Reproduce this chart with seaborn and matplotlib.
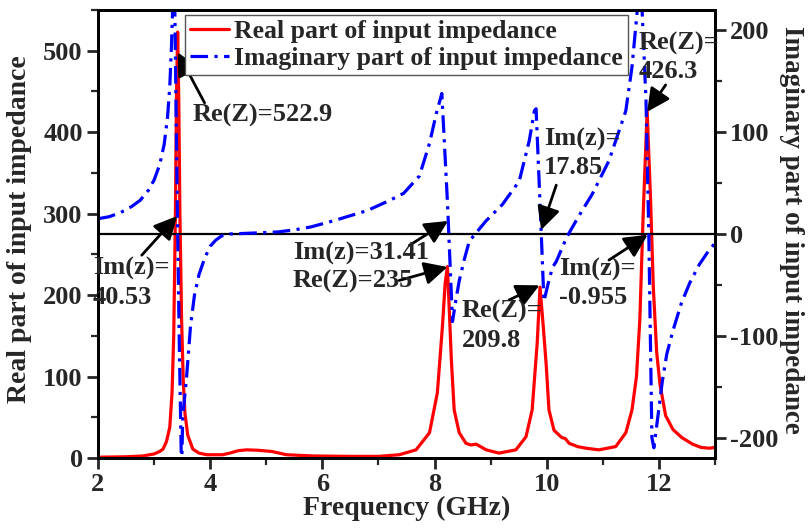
import numpy as np
import pandas as pd
import matplotlib
matplotlib.use('Agg')
import matplotlib.pyplot as plt
from matplotlib.ticker import MultipleLocator
import seaborn as sns

# ---- data ----
freq_re = [2.0, 2.5, 2.8, 3.0, 3.1, 3.16, 3.22, 3.28, 3.32, 3.35, 3.38, 3.40, 3.42, 3.44, 3.46, 3.49,
           3.52, 3.55, 3.6, 3.69, 3.8, 3.94, 4.1, 4.22, 4.35, 4.5, 4.65, 4.85, 5.1, 5.36, 5.83, 6.5,
           7.0, 7.37, 7.67, 7.91, 8.05, 8.14, 8.19, 8.23, 8.27, 8.3, 8.35, 8.44, 8.56, 8.65, 8.74,
           8.82, 8.92, 9.15, 9.45, 9.63, 9.74, 9.83, 9.88, 9.94, 9.99, 10.04, 10.13, 10.27, 10.33,
           10.4, 10.55, 10.7, 10.93, 11.23, 11.41, 11.52, 11.6, 11.66, 11.72, 11.79, 11.85, 11.9,
           11.96, 12.02, 12.12, 12.25, 12.41, 12.6, 12.75, 12.9, 13.0]
real_part = [1, 1.5, 2.5, 5, 8, 11, 20, 38, 80, 150, 300, 450, 522.9, 440, 300, 170,
             95, 55, 28, 11, 6, 4, 4, 4, 6, 9, 10, 9.5, 8, 4, 2.5, 2,
             2, 4, 10, 31, 80, 161, 215, 235, 170, 120, 59, 31, 18, 16, 17,
             14, 10, 6, 10, 26, 59, 141, 209.8, 160, 115, 59, 34, 25, 24,
             18, 14, 12, 10, 14, 31, 59, 100, 170, 300, 426.3, 320, 210,
             130, 90, 52, 35, 25, 17, 13, 12, 13]

freq_im = [2.0, 2.2, 2.4, 2.6, 2.75, 2.9, 3.0, 3.1, 3.18, 3.24, 3.28, 3.31, 3.33, 3.35, 3.37,
           3.41, 3.45, 3.49, 3.51, 3.58, 3.65, 3.72, 3.8, 3.9, 4.0, 4.1, 4.2, 4.35, 4.8, 5.2, 5.5,
           5.8, 6.2, 6.8, 7.2, 7.45, 7.73, 7.91, 8.03, 8.13, 8.23, 8.32, 8.38, 8.44, 8.53, 8.62,
           8.77, 8.92, 9.21, 9.51, 9.69, 9.78, 9.81, 9.89, 9.95, 10.02, 10.1, 10.17, 10.35, 10.45,
           10.62, 10.81, 11.11, 11.41, 11.52, 11.61, 11.66, 11.7, 11.77, 11.82, 11.875, 11.91,
           11.98, 12.06, 12.14, 12.25, 12.4, 12.55, 12.72, 12.88, 13.0]
imag_part = [15, 17, 21, 27, 33, 43, 53, 68, 88, 115, 145, 185, 220, 260, 220,
             40.53, -110, -235, -180, -140, -90, -60, -40, -24, -12, -6, -2, 0, 1, 2, 4,
             7, 13, 23, 33, 40, 57, 89, 118, 138, 31.41, -86, -65, -46, -25, -7,
             3, 13, 29, 52, 92, 121, 123, 17.85, -66, -50, -33, -27, -4, 6,
             22, 39, 72, 121, 164, 217, 260, 220, 131, -0.955, -200, -210,
             -180, -145, -118, -95, -68, -48, -30, -17, -9]

x_ticks = [2, 4, 6, 8, 10, 12]
re_ticks = [0, 100, 200, 300, 400, 500]
im_ticks = [-200, -100, 0, 100, 200]

# ---- style ----
sns.set_style('ticks')
plt.rcParams['font.family'] = ['Liberation Serif', 'DejaVu Serif']
plt.rcParams['font.weight'] = 'bold'
plt.rcParams['axes.labelweight'] = 'bold'
plt.rcParams['axes.unicode_minus'] = False

FS = 19
LFS = 20
fig = plt.figure(figsize=(8.09, 5.30), dpi=100)
ax = fig.add_axes([98 / 809, 1 - 458 / 530, 617 / 809, 448 / 530])
ax2 = ax.twinx()

df_re = pd.DataFrame({'f': freq_re, 'v': real_part})
df_im = pd.DataFrame({'f': freq_im, 'v': imag_part})
sns.lineplot(data=df_re, x='f', y='v', ax=ax, color='#ff0000', lw=2.3,
             errorbar=None, legend=False)
sns.lineplot(data=df_im, x='f', y='v', ax=ax2, color='#0000ff', lw=2.3,
             linestyle=(0, (5.5, 2, 1, 2)), errorbar=None, legend=False)
line_re = ax.get_lines()[0]
line_im = ax2.get_lines()[0]

ax2.axhline(0, color='k', lw=1.6, zorder=1)

ax.set_xlim(2, 13)
ax.set_ylim(0, 550)
ax2.set_ylim(-220, 220)
ax.set_xticks(x_ticks)
ax.set_yticks(re_ticks)
ax2.set_yticks(im_ticks)
ax.xaxis.set_minor_locator(MultipleLocator(1))
ax.yaxis.set_minor_locator(MultipleLocator(50))
ax2.yaxis.set_minor_locator(MultipleLocator(50))

for a in (ax, ax2):
    for s in a.spines.values():
        s.set_linewidth(2)
        s.set_color('black')
    a.tick_params(which='major', direction='out', length=8, width=2, labelsize=FS, pad=3)
    a.tick_params(which='minor', direction='out', length=5, width=1.6)
ax.tick_params(axis='x', which='both', top=False)
ax.tick_params(axis='y', which='both', right=False)
for lab in ax.get_xticklabels() + ax.get_yticklabels() + ax2.get_yticklabels():
    lab.set_fontweight('bold')

ax.set_xlabel('Frequency (GHz)', fontsize=LFS, fontweight='bold')
ax.xaxis.set_label_coords(0.5, -0.085)
ax.set_ylabel('Real part of input impedance', fontsize=LFS, fontweight='bold')
ax.yaxis.set_label_coords(-0.107, 0.51)
ax2.set_ylabel('Imaginary part of input impedance', fontsize=19.5, fontweight='bold',
               rotation=270, va='bottom')
ax2.yaxis.set_label_coords(1.103, 0.51)

leg = ax2.legend(handles=[line_re, line_im],
                 labels=['Real part of input impedance', 'Imaginary part of input impedance'],
                 loc='upper left', bbox_to_anchor=(0.141, 0.989), frameon=True, fancybox=False,
                 edgecolor='#555555', framealpha=1, prop={'size': 18.5, 'weight': 'bold'},
                 handlelength=1.5, handletextpad=0.2, borderpad=0.2, labelspacing=0.15,
                 borderaxespad=0)
leg.get_frame().set_linewidth(1)

# ---- annotations (positions in left-axis data units) ----
T = ax.transData
arrow = dict(arrowstyle='-|>,head_length=0.7,head_width=0.35', color='k', lw=2,
             mutation_scale=20, shrinkA=0, shrinkB=0)
txt = dict(fontsize=FS, fontweight='bold', ha='left', va='center', linespacing=1.3,
           transform=T, zorder=10)

ax2.text(3.69, 421, 'Re(Z)=522.9', **txt)
ax2.annotate('', xy=(3.42, 498), xytext=(3.90, 436), xycoords=T, textcoords=T, arrowprops=arrow)

ax2.text(1.91, 215, 'Im(z)=\n40.53', **txt)
ax2.annotate('', xy=(3.41, 297), xytext=(2.78, 249), xycoords=T, textcoords=T, arrowprops=arrow)

ax2.text(5.47, 234, 'Im(z)=31.41\nRe(Z)=235', **txt)
ax2.annotate('', xy=(8.24, 291), xytext=(7.55, 261), xycoords=T, textcoords=T, arrowprops=arrow)
ax2.annotate('', xy=(8.23, 234.5), xytext=(7.37, 218), xycoords=T, textcoords=T, arrowprops=arrow)

ax2.text(8.48, 162, 'Re(Z)=\n209.8', **txt)
ax2.annotate('', xy=(9.87, 212), xytext=(9.33, 194), xycoords=T, textcoords=T, arrowprops=arrow)

ax2.text(9.95, 374, 'Im(z)=\n17.85', **txt)
ax2.annotate('', xy=(9.9, 280), xytext=(10.17, 335), xycoords=T, textcoords=T, arrowprops=arrow)

ax2.text(11.64, 492, 'Re(Z)=\n426.3', **txt)
ax2.annotate('', xy=(11.79, 425), xytext=(12.12, 458), xycoords=T, textcoords=T, arrowprops=arrow)

ax2.text(10.22, 214, 'Im(z)=\n-0.955', **txt)
ax2.annotate('', xy=(11.8, 274), xytext=(11.11, 243), xycoords=T, textcoords=T, arrowprops=arrow)

fig.savefig('out.png', dpi=100)
